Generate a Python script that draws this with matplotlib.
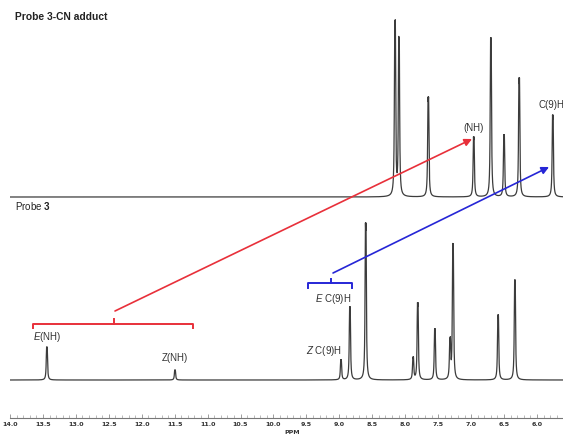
import numpy as np
import matplotlib
matplotlib.use("Agg")
import matplotlib.pyplot as plt

plt.rcParams['font.family'] = ['Liberation Sans', 'DejaVu Sans']
plt.rcParams['mathtext.fontset'] = 'custom'
plt.rcParams['mathtext.rm'] = 'Liberation Sans'
plt.rcParams['mathtext.it'] = 'Liberation Sans:italic'
plt.rcParams['mathtext.bf'] = 'Liberation Sans:bold'

# peak lists (ppm, height in arbitrary units)
probe3_ppm = [13.44, 11.495, 8.975, 8.84, 8.60, 7.88, 7.81, 7.55, 7.32, 7.275, 6.59, 6.335]
probe3_height = [33, 10, 20, 73, 157, 22, 77, 51, 38, 135, 65, 100]

adduct_ppm = [8.155, 8.095, 7.65, 6.96, 6.70, 6.50, 6.27, 5.76]
adduct_height = [174, 157, 100, 60, 159, 62, 119, 82]

ppm_max = 14.0
ppm_min = 5.605
adduct_offset = 183  # upper trace sits above the lower one


def spectrum(ppm, centers, heights, hw=0.0065, j=0.010):
    y = np.zeros_like(ppm)
    for c, h in zip(centers, heights):
        # small unresolved splitting -> two close lines, scaled to the read height
        shape = np.zeros_like(ppm)
        for d in (-j / 2, j / 2):
            shape += hw ** 2 / ((ppm - c - d) ** 2 + hw ** 2)
        y += h * shape / shape.max()
    return y


x = np.linspace(ppm_max, ppm_min, 40000)
y_low = spectrum(x, probe3_ppm, probe3_height)
y_up = spectrum(x, adduct_ppm, adduct_height) + adduct_offset

fig = plt.figure(figsize=(5.63, 4.34), dpi=100)
ax = fig.add_axes([10 / 563, 16 / 434, 553 / 563, 418 / 434])
ax.set_xlim(ppm_max, ppm_min)
ax.set_ylim(-38, 380)

ax.plot(x, y_up, color='#3c3c3c', lw=0.9)
ax.plot(x, y_low, color='#3c3c3c', lw=0.9)

for s in ['top', 'left', 'right']:
    ax.spines[s].set_visible(False)
ax.spines['bottom'].set_color('#777777')
ax.spines['bottom'].set_linewidth(0.8)
ax.set_yticks([])
ax.set_xticks(np.arange(14.0, 5.9, -0.5))
ax.set_xticks(np.arange(14.0, 5.6, -0.1), minor=True)
ax.set_xticklabels(['%.1f' % v for v in np.arange(14.0, 5.9, -0.5)])
ax.tick_params(axis='x', which='major', direction='in', length=3, width=0.5,
               color='#777777', labelsize=4.6, labelcolor='#333333', pad=3)
ax.tick_params(axis='x', which='minor', direction='in', length=2, width=0.4,
               color='#888888')
for lab in ax.get_xticklabels():
    lab.set_fontfamily('DejaVu Sans')
    lab.set_fontweight('bold')
fig.text(292 / 563, 1 - 433 / 434, 'PPM', fontsize=4.5, fontweight='bold',
         family='DejaVu Sans', color='#333333', ha='center', va='center')

# titles
fig.text(15 / 563, 1 - 17 / 434, 'Probe 3-CN adduct', fontsize=7.4,
         fontweight='bold', color='#222222', ha='left', va='center')
fig.text(15 / 563, 1 - 206 / 434, r'Probe $\mathbf{3}$', fontsize=7,
         color='#222222', ha='left', va='center')

# peak labels
lab_kw = dict(fontsize=7, color='#333333', ha='center', va='center')
ax.text(13.44, 43, r'$\mathit{E}$(NH)', **lab_kw)
ax.text(11.495, 22, 'Z(NH)', **lab_kw)
ax.text(9.10, 81, r'$\mathit{E}$ C(9)H', **lab_kw)
ax.text(9.23, 29, r'$\mathit{Z}$ C(9)H', **lab_kw)
ax.text(6.97, adduct_offset + 69, '(NH)', **lab_kw)
ax.text(5.98, adduct_offset + 92, 'C(9)H', fontsize=7, color='#333333',
        ha='left', va='center', clip_on=False)

red = '#e8303a'
blue = '#2626d6'

# brackets
ax.plot([13.651, 13.651, 11.222, 11.222], [52, 56, 56, 52], color=red, lw=1.4)
ax.plot([12.42, 12.42], [56, 61], color=red, lw=1.4)
ax.plot([9.476, 9.476, 8.808, 8.808], [92, 97, 97, 92], color=blue, lw=1.4)
ax.plot([9.127, 9.127], [97, 101], color=blue, lw=1.4)

# arrows
ax.annotate('', xy=(6.986, 241), xytext=(12.406, 69),
            arrowprops=dict(arrowstyle='-|>', color=red, lw=1.2,
                            mutation_scale=11, shrinkA=0, shrinkB=0))
ax.annotate('', xy=(5.817, 213), xytext=(9.096, 107),
            arrowprops=dict(arrowstyle='-|>', color=blue, lw=1.2,
                            mutation_scale=11, shrinkA=0, shrinkB=0))

fig.savefig('out.png', dpi=100)
